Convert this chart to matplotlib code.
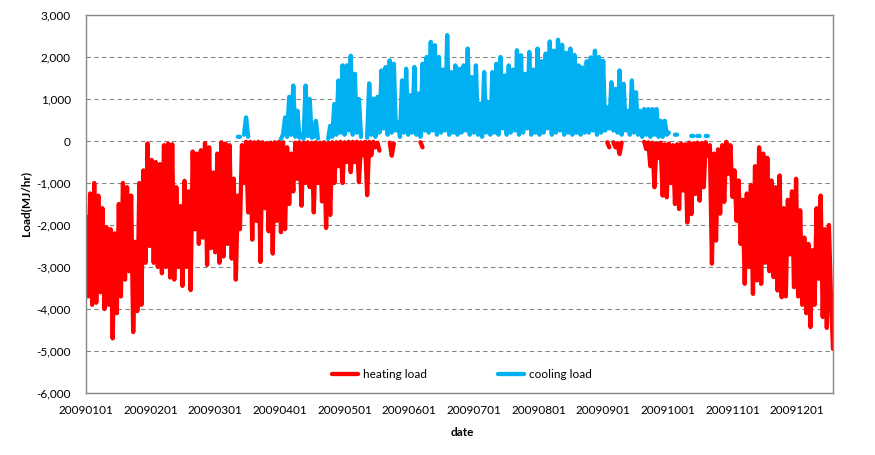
import numpy as np
import matplotlib
matplotlib.use("Agg")
import matplotlib.pyplot as plt
from matplotlib.ticker import FuncFormatter

# daily readings of the hourly load band (alternating upper / lower edge), MJ/hr
heat_jan = [-1800, -3700, -1250, -3900, -1000, -3850, -1300, -3600, -1600, -4000,
            -2050, -3900, -2100, -4700, -2200, -4100, -1500, -3700, -1000, -3300,
            -1100, -3100, -1300, -4550, -2400, -4050, -1000, -3900, -700, -2900,
            -60]
heat_feb = [-2500, -450, -2900, -500, -3000, -550, -3150, -100, -3000, -60,
            -3250, -80, -3300, -1100, -3000, -1550, -3450, -950, -3000, -1200,
            -3550, -250, -2100, -300, -2450, -220, -2300, -50]
heat_mar = [-2950, -150, -2550, -750, -2650, -300, -2900, -30, -2750, -60,
            -2450, -100, -2800, -900, -3300, -1300, -2100, -100, -1000, -20,
            -1700, -20, -2350, -30, -1900, -20, -2880, -30, -1600, -50,
            -2150]
heat_apr = [-40, -2680, -30, -1900, -20, -2170, -30, -2100, -150, -1500,
            -300, -1200, -40, -900, -30, -1540, -40, -1000, -30, -1100,
            -40, -1700, -30, -1000, -40, -1440, -30, -2070, -40, -1760]
heat_may = [-30, -1000, -30, -600, -20, -1000, -30, -500, -20, -740,
            -20, -500, -20, -980, -30, -340, -20, -1290, -20, -340,
            -20, -150, -40, -230, None, None, None, None, -40, -350,
            -60]
heat_jun = [None] * 12 + [-30, -150] + [None] * 16
heat_jul = [None] * 31
heat_aug = [None] * 31
heat_sep = [None] * 11 + [-30, -150, None, -30, -150, -60, -310, -40] + [None] * 10 + [-20]
heat_oct = [-190, -30, -600, -40, -1100, -60, -400, -40, -1300, -80,
            -1340, -60, -1000, -100, -1500, -80, -1620, -60, -1180, -80,
            -1940, -40, -1740, -60, -1260, -40, -1420, -50, -1100, -30,
            -350]
heat_nov = [-100, -2920, -300, -2370, -200, -1730, -100, -1450, -20, -780,
            -100, -1330, -700, -1900, -940, -2450, -1400, -3400, -1250, -3000,
            -1050, -3640, -600, -3320, -150, -3400, -300, -2900, -400, -3100]
heat_dec = [-940, -3240, -1100, -3560, -820, -3720, -1600, -3700, -1400, -2700,
            -1200, -3480, -900, -3700, -1650, -3900, -2300, -4100, -2450, -4430,
            -2600, -3900, -1600, -3280, -1300, -4190, -2100, -4450, -2000, -3700,
            -4950]

cool_jan = [None] * 31
cool_feb = [None] * 28
cool_mar = [None] * 15 + [100, 100, None, 150, 560, 100] + [None] * 10
cool_apr = [None] * 5 + [50, 150, 560, 100, 1050, 150, 1320, 100, 720, 80,
                         150, 50, 1320, 120, 1000, 80, 100, 480, 60] + [None] * 4 + [50, 360]
cool_may = [100, 880, 150, 1440, 200, 1800, 150, 1800, 250, 2030,
            150, 1600, 200, 1000, 100, None, None, 80, 1370, 150,
            1010, 100, 1050, 200, 1680, 300, 1760, 150, 1920, 200,
            1840]
cool_jun = [250, 450, 100, 1440, 200, 1720, 150, 1090, 200, 1760,
            150, 1130, 100, 1840, 250, 2000, 200, 2360, 250, 2280,
            150, 2000, 200, 1700, 250, 2520, 150, 1640, 200, 1800]
cool_jul = [150, 1720, 200, 1800, 250, 2200, 150, 1520, 200, 1800,
            150, 890, 100, 1640, 200, 930, 150, 1640, 200, 1840,
            150, 2000, 300, 1560, 150, 1800, 200, 1700, 250, 2160,
            150]
cool_aug = [2040, 200, 1600, 300, 2120, 150, 1700, 200, 2200, 150,
            1900, 200, 2080, 300, 2370, 150, 2150, 200, 2410, 250,
            2290, 150, 2100, 200, 2200, 150, 2050, 200, 1800, 150,
            1750]
cool_sep = [200, 1900, 200, 1990, 250, 2150, 150, 2000, 200, 1910,
            250, 800, 300, 1400, 250, 1240, 200, 1680, 150, 1360,
            250, 720, 150, 1440, 200, 1160, 150, 720, 100, 760]
cool_oct = [150, 760, 100, 760, 150, 760, 100, 480, 100, 480,
            150, 200, None, None, 150, 150] + [None] * 6 + [120, 120, None, 120, 120,
                                                           None, None, 120, 120]
cool_nov = [None] * 30
cool_dec = [None] * 31

tick_labels = ["20090101", "20090201", "20090301", "20090401", "20090501", "20090601",
               "20090701", "20090801", "20090901", "20091001", "20091101", "20091201"]

heating = heat_jan + heat_feb + heat_mar + heat_apr + heat_may + heat_jun + \
    heat_jul + heat_aug + heat_sep + heat_oct + heat_nov + heat_dec
cooling = cool_jan + cool_feb + cool_mar + cool_apr + cool_may + cool_jun + \
    cool_jul + cool_aug + cool_sep + cool_oct + cool_nov + cool_dec

heating = np.array([np.nan if v is None else v for v in heating], dtype=float)
cooling = np.array([np.nan if v is None else v for v in cooling], dtype=float)
days = np.arange(len(heating))

plt.rcParams['font.family'] = ['Lato', 'DejaVu Sans']

fig = plt.figure(figsize=(8.75, 4.55), dpi=100)
ax = fig.add_axes([86 / 875, 1 - 393 / 455, 747 / 875, 378 / 455])

ax.plot(days, heating, color='#FF0000', lw=3.1, label='heating load',
        solid_capstyle='round')
ax.plot(days, cooling, color='#00B0F0', lw=3.1, label='cooling load',
        solid_capstyle='round')

ax.set_xlim(0, len(days) - 1)
ax.set_ylim(-6000, 3000)
ax.set_yticks(np.arange(-6000, 3001, 1000))
ax.yaxis.set_major_formatter(FuncFormatter(lambda v, p: f"{v:,.0f}"))
ax.set_xticks(np.arange(len(tick_labels)) * 31.5)
ax.set_xticklabels(tick_labels)
ax.tick_params(length=0, labelsize=8.5)
ax.tick_params(axis='y', pad=11)
ax.tick_params(axis='x', pad=9)

ax.yaxis.grid(True, color='#868686', linestyle=(0, (4, 3)), linewidth=0.8)
ax.set_axisbelow(True)
for s in ax.spines.values():
    s.set_color('#868686')
    s.set_linewidth(1)

fig.text(462 / 875, 1 - 432 / 455, 'date', ha='center', va='center',
         fontsize=8.5, fontweight='bold')
fig.text(26 / 875, 1 - 204 / 455, 'Load(MJ/hr)', ha='center', va='center',
         rotation=90, fontsize=8.5, fontweight='bold')

ax.legend(loc='center', bbox_to_anchor=(462 / 875, 1 - 375 / 455),
          bbox_transform=fig.transFigure, ncol=2, frameon=False,
          fontsize=8.5, handlelength=2.2, columnspacing=6.0, handletextpad=0.4)

fig.savefig('out.png', dpi=100)
